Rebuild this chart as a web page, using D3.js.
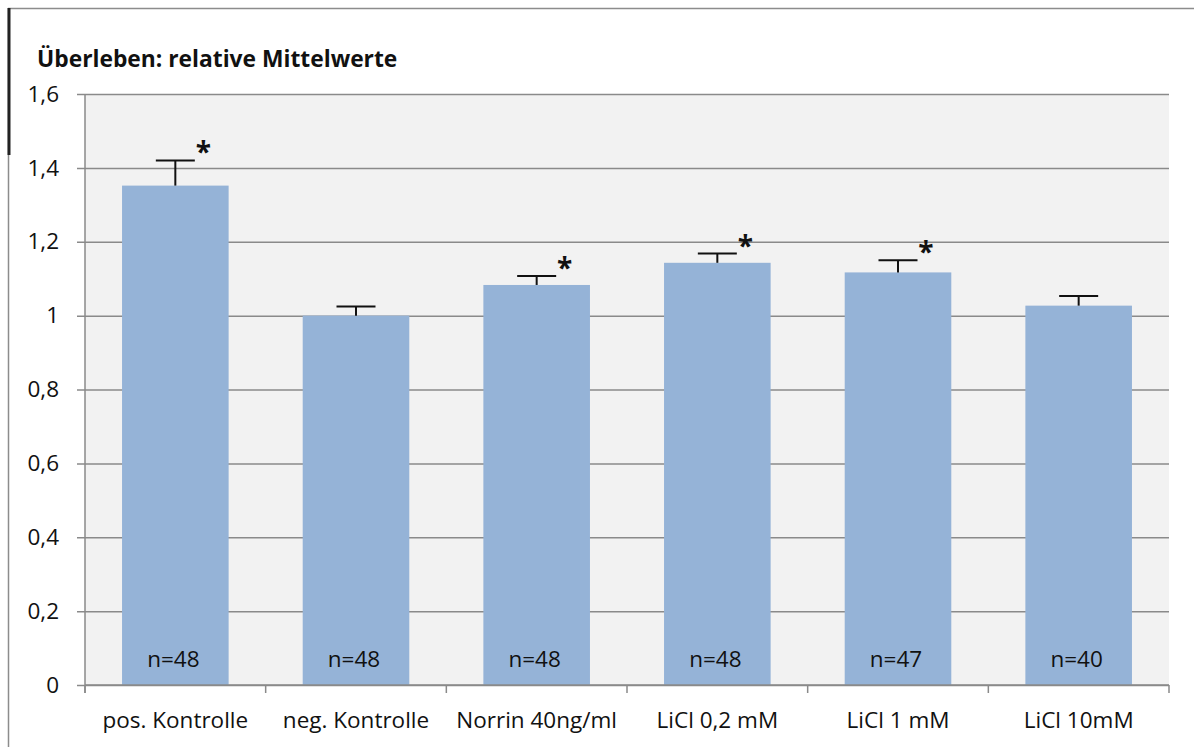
<!DOCTYPE html>
<html>
<head>
<meta charset="utf-8">
<script src="https://cdn.jsdelivr.net/npm/d3@7"></script>
<style>
  html, body { margin: 0; padding: 0; background: #fff; }
  svg { display: block; font-family: "Open Sans", sans-serif; }
</style>
</head>
<body>
<svg id="chart" width="1194" height="747"></svg>
<script>
// Überleben: relative Mittelwerte je Behandlung
const categories = ["pos. Kontrolle", "neg. Kontrolle", "Norrin 40ng/ml", "LiCl 0,2 mM", "LiCl 1 mM", "LiCl 10mM"];
const means      = [1.352, 1.000, 1.083, 1.143, 1.117, 1.027];
const errors     = [0.068, 0.025, 0.024, 0.025, 0.033, 0.026];
const nLabels    = ["n=48", "n=48", "n=48", "n=48", "n=47", "n=40"];
const significant = [true, false, true, true, true, false];
const yTicks     = [0, 0.2, 0.4, 0.6, 0.8, 1, 1.2, 1.4, 1.6];

const svg = d3.select("#chart");
const plot = { left: 85, right: 1169, top: 94, bottom: 685 };
const fontSize = "22.5px";

// outer frame of the chart object
svg.append("line").attr("x1", 8).attr("x2", 1194).attr("y1", 8.5).attr("y2", 8.5)
  .attr("stroke", "#8c8c8c").attr("stroke-width", 1.5);
svg.append("line").attr("x1", 8.5).attr("x2", 8.5).attr("y1", 8).attr("y2", 747)
  .attr("stroke", "#8c8c8c").attr("stroke-width", 1.5);
svg.append("line").attr("x1", 9).attr("x2", 9).attr("y1", 8).attr("y2", 155)
  .attr("stroke", "#222").attr("stroke-width", 3);

const x = d3.scaleBand().domain(categories).range([plot.left, plot.right]).paddingInner(0.41).paddingOuter(0.205);
const y = d3.scaleLinear().domain([0, 1.6]).range([plot.bottom, plot.top]);

// plot area background
svg.append("rect").attr("x", plot.left).attr("y", plot.top)
  .attr("width", plot.right - plot.left).attr("height", plot.bottom - plot.top)
  .attr("fill", "#f2f2f2");

// horizontal gridlines with small ticks on the left
const yAxis = d3.axisLeft(y).tickValues(yTicks)
  .tickSize(-(plot.right - plot.left))
  .tickFormat(d => d3.format("")(d).replace(".", ","));
const gy = svg.append("g").attr("transform", `translate(${plot.left},0)`).call(yAxis);
gy.select(".domain").remove();
gy.selectAll(".tick line").attr("stroke", "#8a8a8a").attr("stroke-width", 1.5)
  .attr("x1", -8);
gy.selectAll(".tick text").attr("x", -26).attr("fill", "#111")
  .style("font-size", fontSize).style("font-family", "'Open Sans', sans-serif");

// vertical axis line
svg.append("line").attr("x1", plot.left).attr("x2", plot.left)
  .attr("y1", plot.top).attr("y2", plot.bottom + 8)
  .attr("stroke", "#8a8a8a").attr("stroke-width", 1.5);

// bars
svg.append("g").selectAll("rect").data(categories).join("rect")
  .attr("x", d => x(d))
  .attr("y", (d, i) => y(means[i]))
  .attr("width", x.bandwidth())
  .attr("height", (d, i) => y(0) - y(means[i]))
  .attr("fill", "#95b3d7");

// category axis along the bottom
const step = x.step();
const boundaries = d3.range(categories.length + 1).map(i => plot.left + i * step);
svg.append("line").attr("x1", plot.left).attr("x2", plot.right)
  .attr("y1", y(0)).attr("y2", y(0)).attr("stroke", "#8a8a8a").attr("stroke-width", 1.5);
svg.append("g").selectAll("line").data(boundaries).join("line")
  .attr("x1", d => d).attr("x2", d => d)
  .attr("y1", y(0)).attr("y2", y(0) + 8)
  .attr("stroke", "#8a8a8a").attr("stroke-width", 1.5);
svg.append("g").selectAll("text").data(categories).join("text")
  .attr("x", d => x(d) + x.bandwidth() / 2)
  .attr("y", 728)
  .attr("text-anchor", "middle")
  .attr("fill", "#111")
  .style("font-size", fontSize)
  .text(d => d);

// error bars (upper whisker only)
const capHalf = 19.5;
const eb = svg.append("g").attr("stroke", "#111").attr("stroke-width", 2);
categories.forEach((c, i) => {
  const cx = x(c) + x.bandwidth() / 2;
  eb.append("line").attr("x1", cx).attr("x2", cx)
    .attr("y1", y(means[i])).attr("y2", y(means[i] + errors[i]));
  eb.append("line").attr("x1", cx - capHalf).attr("x2", cx + capHalf)
    .attr("y1", y(means[i] + errors[i])).attr("y2", y(means[i] + errors[i]));
});

// significance markers
svg.append("g").selectAll("text").data(categories.filter((c, i) => significant[i])).join("text")
  .attr("x", d => x(d) + x.bandwidth() / 2 + 28)
  .attr("y", d => { const i = categories.indexOf(d); return y(means[i] + errors[i]) + 2; })
  .attr("text-anchor", "middle")
  .attr("fill", "#111")
  .style("font-size", "28px")
  .style("font-weight", "bold")
  .text("*");

// sample sizes inside the bars
svg.append("g").selectAll("text").data(categories).join("text")
  .attr("x", d => x(d) + x.bandwidth() / 2 - 2)
  .attr("y", 667)
  .attr("text-anchor", "middle")
  .attr("fill", "#111")
  .style("font-size", fontSize)
  .text((d, i) => nLabels[i]);

// title
svg.append("text").attr("x", 37).attr("y", 67)
  .attr("fill", "#111")
  .style("font-size", "22.8px").style("font-weight", "bold")
  .text("Überleben: relative Mittelwerte");
</script>
</body>
</html>
